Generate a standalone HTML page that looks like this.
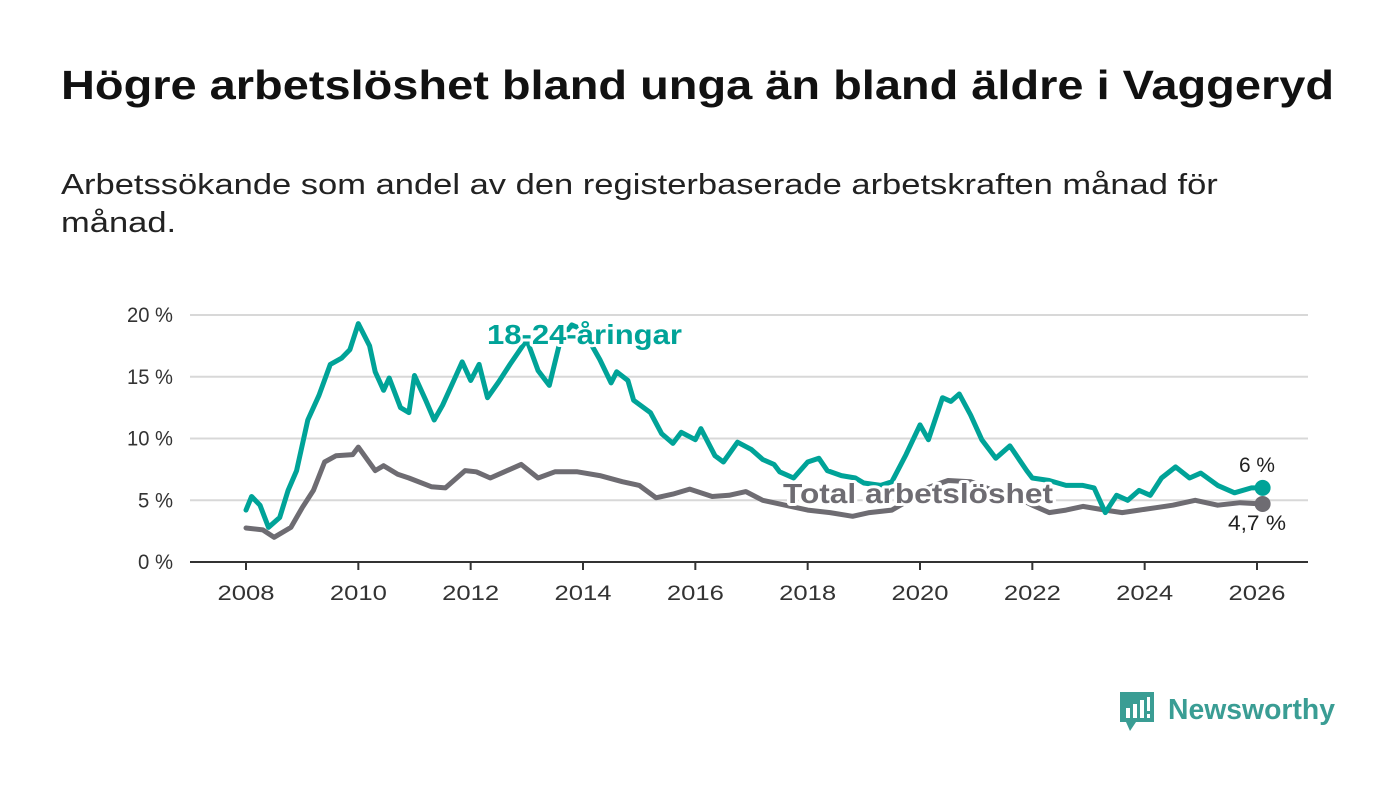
<!DOCTYPE html>
<html><head><meta charset="utf-8"><style>
body{margin:0;background:#fff;font-family:"Liberation Sans","DejaVu Sans",sans-serif;}
#wrap{position:relative;width:1400px;height:794px;overflow:hidden;}
h1{position:absolute;left:61px;top:62px;margin:0;font-size:41px;font-weight:bold;color:#111;white-space:nowrap;transform:scaleX(1.145);transform-origin:0 0;}
#sub{position:absolute;left:61px;top:166px;width:1040px;margin:0;font-size:29px;line-height:38px;color:#222;transform:scaleX(1.19);transform-origin:0 0;}
svg{position:absolute;left:0;top:0;}
</style></head><body>
<div id="wrap">
<h1>Högre arbetslöshet bland unga än bland äldre i Vaggeryd</h1>
<p id="sub">Arbetssökande som andel av den registerbaserade arbetskraften månad för månad.</p>
<svg id="chart" width="1400" height="794"></svg>
</div>
<script>
const yTicks=[0,5,10,15,20];
const xTicks=[2008,2010,2012,2014,2016,2018,2020,2022,2024,2026];
const youthT=[2008.0,2008.1,2008.25,2008.4,2008.6,2008.75,2008.9,2009.1,2009.3,2009.5,2009.7,2009.85,2010.0,2010.2,2010.3,2010.45,2010.55,2010.75,2010.9,2011.0,2011.2,2011.35,2011.5,2011.7,2011.85,2012.0,2012.15,2012.3,2012.5,2012.7,2012.85,2013.0,2013.2,2013.4,2013.6,2013.8,2014.0,2014.3,2014.5,2014.6,2014.8,2014.9,2015.2,2015.4,2015.6,2015.75,2016.0,2016.1,2016.35,2016.5,2016.75,2017.0,2017.2,2017.4,2017.5,2017.75,2018.0,2018.2,2018.35,2018.6,2018.85,2019.0,2019.3,2019.5,2019.75,2020.0,2020.15,2020.4,2020.55,2020.7,2020.9,2021.1,2021.35,2021.6,2021.9,2022.0,2022.3,2022.6,2022.9,2023.1,2023.3,2023.5,2023.7,2023.9,2024.1,2024.3,2024.55,2024.8,2025.0,2025.3,2025.6,2025.9,2026.1];
const youthV=[4.2,5.3,4.6,2.8,3.6,5.8,7.4,11.5,13.5,16,16.5,17.2,19.3,17.5,15.4,13.9,14.9,12.5,12.1,15.1,13.1,11.5,12.7,14.7,16.2,14.7,16,13.3,14.6,16,17,18,15.5,14.3,18,19.2,18.8,16.4,14.5,15.4,14.7,13.1,12.1,10.4,9.6,10.5,9.9,10.8,8.6,8.1,9.7,9.1,8.3,7.9,7.3,6.8,8.1,8.4,7.4,7.0,6.8,6.4,6.2,6.5,8.7,11.1,9.9,13.3,13,13.6,11.9,9.9,8.4,9.4,7.4,6.8,6.6,6.2,6.2,6.0,4.0,5.4,5.0,5.8,5.4,6.8,7.7,6.8,7.2,6.2,5.6,6.0,6.0];
const totalT=[2008.0,2008.3,2008.5,2008.8,2009.0,2009.2,2009.4,2009.6,2009.9,2010.0,2010.3,2010.45,2010.7,2010.9,2011.3,2011.55,2011.9,2012.1,2012.35,2012.6,2012.9,2013.2,2013.5,2013.9,2014.3,2014.7,2015.0,2015.3,2015.6,2015.9,2016.3,2016.6,2016.9,2017.2,2017.6,2018.0,2018.4,2018.8,2019.1,2019.5,2019.8,2020.0,2020.5,2020.9,2021.3,2021.7,2022.0,2022.3,2022.6,2022.9,2023.3,2023.6,2023.9,2024.2,2024.5,2024.9,2025.3,2025.7,2026.1];
const totalV=[2.75,2.6,2.0,2.8,4.4,5.8,8.1,8.6,8.7,9.3,7.4,7.8,7.1,6.8,6.1,6.0,7.4,7.3,6.8,7.3,7.9,6.8,7.3,7.3,7.0,6.5,6.2,5.2,5.5,5.9,5.3,5.4,5.7,5.0,4.6,4.2,4.0,3.7,4.0,4.2,5.0,5.8,6.6,6.5,5.8,5.3,4.6,4.0,4.2,4.5,4.2,4.0,4.2,4.4,4.6,5.0,4.6,4.8,4.7];
const X0=190,X1=1308;
const xs=t=>246+(t-2008)*(1257-246)/18;
const ys=v=>562-v*(562-315)/20;
const svg=document.getElementById('chart');
const NS='http://www.w3.org/2000/svg';
function mk(tag,attrs,parent){const e=document.createElementNS(NS,tag);for(const k in attrs)e.setAttribute(k,attrs[k]);(parent||svg).appendChild(e);return e;}
yTicks.forEach(v=>{
  const l=mk('line',{x1:X0,x2:X1,y1:ys(v),y2:ys(v),stroke:v===0?'#333':'#d8d8d8','stroke-width':2});
  
  
  const s=v+' %';
  const t=mk('text',{x:173,y:ys(v)+7,'text-anchor':'end','font-size':21,fill:'#333',textLength:(s.length*11.5).toFixed(0),lengthAdjust:'spacingAndGlyphs'});
  t.textContent=s;
  
  
});
xTicks.forEach(y=>{
  const l=mk('line',{x1:xs(y),x2:xs(y),y1:562,y2:570,stroke:'#333','stroke-width':2});
  
  
  const t=mk('text',{x:xs(y),y:600,'text-anchor':'middle','font-size':21,fill:'#333',textLength:57,lengthAdjust:'spacingAndGlyphs'});
  t.textContent=y;
  
  
});
function series(T,V,color,name){
  const d=T.map((t,i)=>(i?'L':'M')+xs(t).toFixed(1)+','+ys(V[i]).toFixed(1)).join('');
  const p=mk('path',{d:d,fill:'none',stroke:color,'stroke-width':5,'stroke-linejoin':'round','stroke-linecap':'round'});
  
  
  const n=T.length-1;
  const c=mk('circle',{cx:xs(T[n]),cy:ys(V[n]),r:8,fill:color});
  
  
}
series(totalT,totalV,'#6e6c72','total');
series(youthT,youthV,'#00a398','youth');
function label(x,y,txt,color,size,weight,anchor,len,name){
  const t=mk('text',{x:x,y:y,'font-size':size,'font-weight':weight,fill:color,'text-anchor':anchor,stroke:'#fff','stroke-width':6,'paint-order':'stroke','stroke-linejoin':'round',textLength:len,lengthAdjust:'spacingAndGlyphs'});
  t.textContent=txt;
  
  
}
label(487,344,'18-24-åringar','#00a398',28,'bold','start',195,'youth-series-label');
label(783,503,'Total arbetslöshet','#6e6c72',28,'bold','start',270,'total-series-label');
label(1257,472,'6 %','#222',21,'normal','middle',36,'youth-end-value');
label(1257,530,'4,7 %','#222',21,'normal','middle',58,'total-end-value');
</script>
<svg width="1400" height="794" style="position:absolute;left:0;top:0;pointer-events:none">
<path d="M1120 692 h34 v30 h-18 l-6 9 l-4 -9 h-6 z" fill="#3a9d94"/>
<rect x="1126" y="708" width="4" height="10" fill="#fff"/><rect x="1133" y="704" width="4" height="14" fill="#fff"/><rect x="1140" y="700" width="4" height="18" fill="#fff"/><rect x="1147" y="697" width="3" height="14" fill="#fff"/><rect x="1147" y="714" width="3" height="4" fill="#fff"/>
<text x="1168" y="719" font-size="29" font-weight="bold" fill="#3a9d94" textLength="167" lengthAdjust="spacingAndGlyphs">Newsworthy</text>
</svg>
</body></html>
